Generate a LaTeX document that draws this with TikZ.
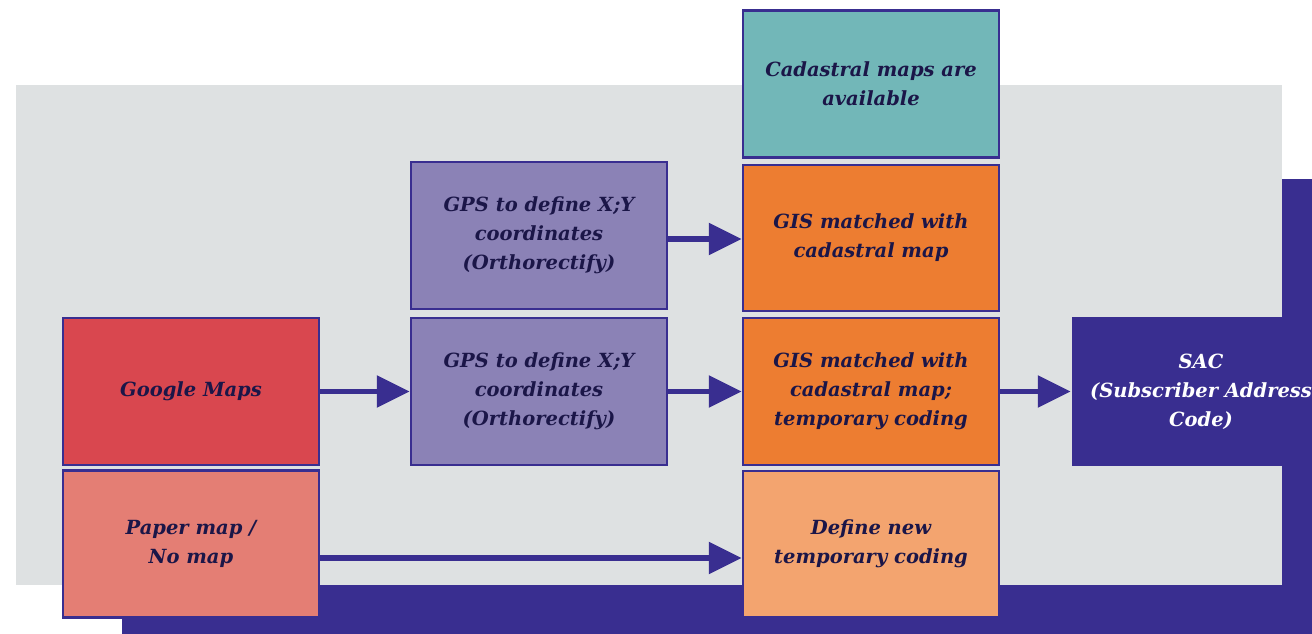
\documentclass[tikz,border=0pt]{standalone}
\usepackage{fontspec}
\setmainfont{DejaVu Serif}
\usetikzlibrary{arrows.meta}
\definecolor{navy}{HTML}{392E90}
\definecolor{ink}{HTML}{1B1648}
\definecolor{bggrey}{HTML}{DEE1E2}
\definecolor{teal}{HTML}{72B7B8}
\definecolor{lilac}{HTML}{8B82B6}
\definecolor{orng}{HTML}{ED7D31}
\definecolor{redb}{HTML}{D9474F}
\definecolor{salmon}{HTML}{E47E74}
\definecolor{lorange}{HTML}{F3A46F}
\begin{document}
\begin{tikzpicture}[x=1pt,y=-1pt,
  box/.style={draw=navy,line width=2.5pt,minimum width=256pt,minimum height=147pt,
    align=center,font=\fontsize{19.5}{29}\selectfont\bfseries\itshape,text=ink,inner sep=0pt},
  conn/.style={draw=navy,line width=5.5pt,-{Triangle[length=33pt,width=31pt]}}]
\useasboundingbox (0,0) rectangle (1312,634);
\fill[white] (0,0) rectangle (1312,634);
\fill[navy] (122,179) rectangle (1312,634);
\fill[bggrey] (16,85) rectangle (1282,585);

\node[box,fill=teal] (cad) at (871,84) {Cadastral maps are\\available};
\node[box,fill=lilac] (gps1) at (539,235.5) {GPS to define X;Y\\coordinates\\(Orthorectify)};
\node[box,fill=orng,minimum height=146pt] (gis1) at (871,238) {GIS matched with\\cadastral map};
\node[box,fill=redb] (google) at (191,391.5) {Google Maps};
\node[box,fill=lilac] (gps2) at (539,391.5) {GPS to define X;Y\\coordinates\\(Orthorectify)};
\node[box,fill=orng] (gis2) at (871,391.5) {GIS matched with\\cadastral map;\\temporary coding};
\node[box,draw=none,fill=navy,text=white,minimum width=258pt,minimum height=149pt] (sac) at (1201,391.5) {SAC\\(Subscriber Address\\Code)};
\node[box,fill=salmon] (paper) at (191,544) {Paper map /\\No map};
\node[box,fill=lorange,minimum height=146pt] (def) at (871,544) {Define new\\temporary coding};

\draw[conn] (gps1.east |- 0,239) -- (gis1.west |- 0,239);
\draw[conn] (google) -- (gps2);
\draw[conn] (gps2) -- (gis2);
\draw[conn] (gis2) -- (sac.west);
\draw[conn] (paper.east |- 0,558) -- (def.west |- 0,558);
\end{tikzpicture}
\end{document}
